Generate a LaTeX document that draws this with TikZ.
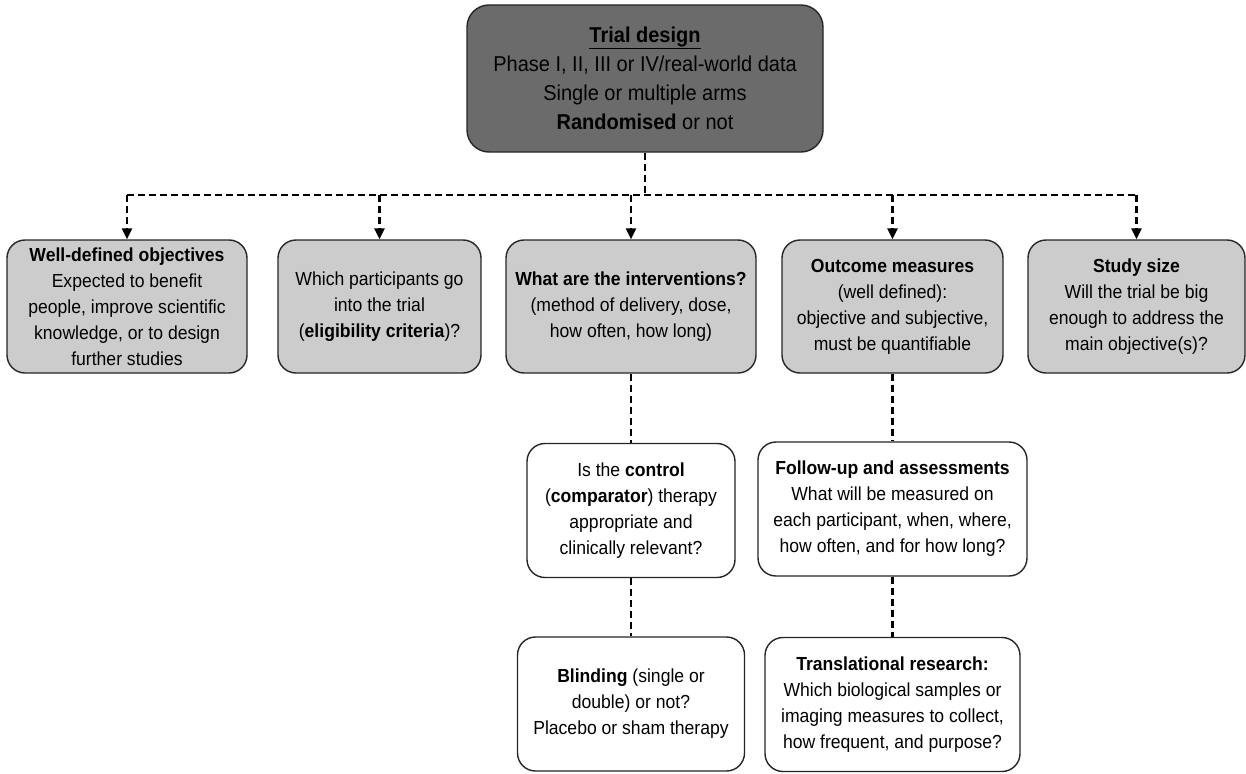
\documentclass[tikz,border=0pt]{standalone}
\usepackage{fontspec}
\setmainfont[FakeStretch=0.93]{Liberation Sans}
\usetikzlibrary{arrows.meta}
\begin{document}
\begin{tikzpicture}[x=1pt,y=-1pt,
  box/.style={draw=black!85, line width=1.4pt, rounded corners=18pt, align=center, inner sep=0pt,
    font=\fontsize{18.9}{26}\selectfont},
  toprow/.style={box, fill=black!20, minimum height=133pt},
  lowbox/.style={box, fill=white, minimum height=134pt},
  dl/.style={line width=2.5pt, dash pattern=on 7pt off 4pt},
  arr/.style={dl, -{Triangle[width=10pt,length=11pt]}}]
\useasboundingbox (0,0) rectangle (1246,773);

\node[box, fill=black!58, minimum width=356pt, minimum height=147pt, rounded corners=22pt,
  font=\fontsize{21.5}{29}\selectfont] (top) at (645,78.5)
  {\underline{\textbf{Trial design}}\\Phase I, II, III or IV/real-world data\\Single or multiple arms\\\textbf{Randomised} or not};

\node[toprow, minimum width=240pt] (b1) at (127,306.5)
  {\textbf{Well-defined objectives}\\Expected to benefit\\people, improve scientific\\knowledge, or to design\\further studies};
\node[toprow, minimum width=203pt] (b2) at (379.5,306.5)
  {Which participants go\\into the trial\\(\textbf{eligibility criteria})?};
\node[toprow, minimum width=250pt] (b3) at (631,306.5)
  {\textbf{What are the interventions?}\\(method of delivery, dose,\\how often, how long)};
\node[toprow, minimum width=221pt] (b4) at (892.5,306.5)
  {\textbf{Outcome measures}\\(well defined):\\objective and subjective,\\must be quantifiable};
\node[toprow, minimum width=217pt] (b5) at (1136.5,306.5)
  {\textbf{Study size}\\Will the trial be big\\enough to address the\\main objective(s)?};

\node[lowbox, minimum width=208pt] (ctrl) at (631,510.5)
  {Is the \textbf{control}\\(\textbf{comparator}) therapy\\appropriate and\\clinically relevant?};
\node[lowbox, minimum width=269pt] (fu) at (892.5,509)
  {\textbf{Follow-up and assessments}\\What will be measured on\\each participant, when, where,\\how often, and for how long?};
\node[lowbox, minimum width=227pt] (blind) at (631,704)
  {\textbf{Blinding} (single or\\double) or not?\\Placebo or sham therapy};
\node[lowbox, minimum width=255pt] (tr) at (892.5,704.5)
  {\textbf{Translational research:}\\Which biological samples or\\imaging measures to collect,\\how frequent, and purpose?};

\coordinate (hub) at (645,195);
\draw[dl] (top.south) -- (hub);
\draw[dl] (b1.north |- hub) -- (b5.north |- hub);
\foreach \b in {b1,b2,b3,b4,b5}
  \draw[arr] (\b.north |- hub) -- (\b.north);

\draw[dl] (b3.south) -- (ctrl.north);
\draw[dl] (ctrl.south) -- (blind.north);
\draw[dl] (b4.south) -- (fu.north);
\draw[dl] (fu.south) -- (tr.north);
\end{tikzpicture}
\end{document}
